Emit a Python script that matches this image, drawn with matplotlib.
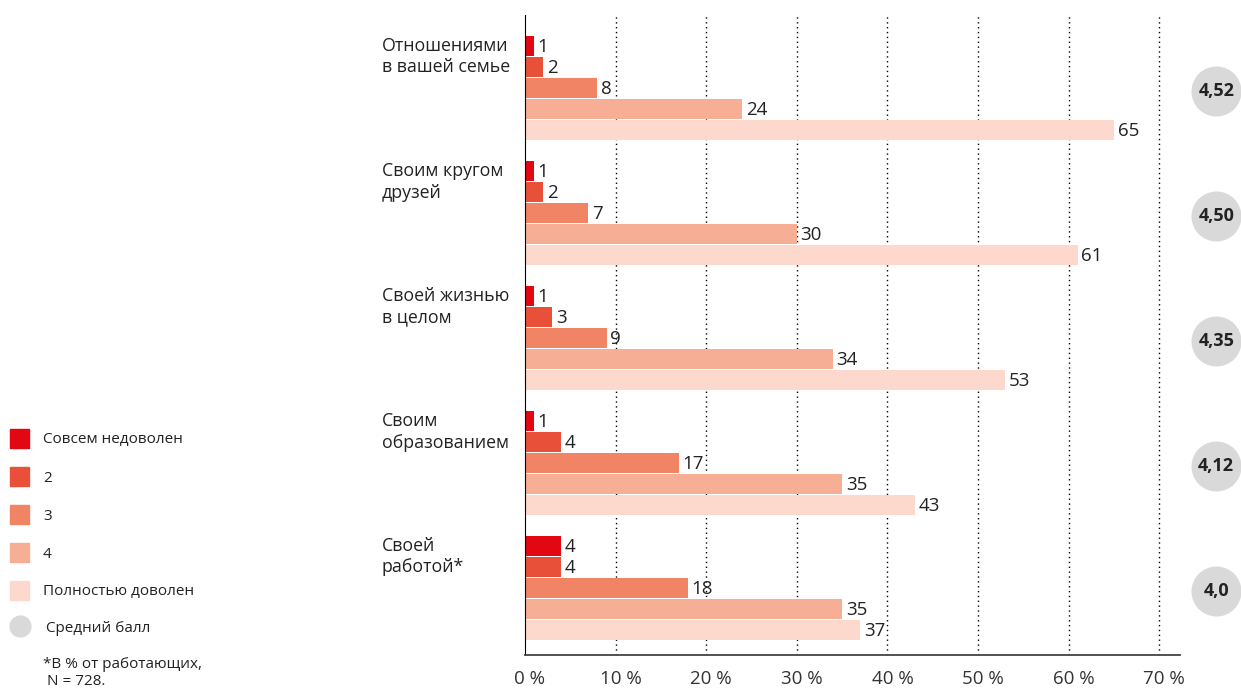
import matplotlib.pyplot as plt
from matplotlib.patches import Rectangle
from matplotlib.transforms import ScaledTranslation

plt.rcParams['font.family'] = ['Open Sans', 'DejaVu Sans']

# данные
categories = ["Отношениями\nв вашей семье", "Своим кругом\nдрузей", "Своей жизнью\nв целом",
              "Своим\nобразованием", "Своей\nработой*"]
levels = ["Совсем недоволен", "2", "3", "4", "Полностью доволен"]
values = [
    [1, 2, 8, 24, 65],
    [1, 2, 7, 30, 61],
    [1, 3, 9, 34, 53],
    [1, 4, 17, 35, 43],
    [4, 4, 18, 35, 37],
]
avg_scores = ["4,52", "4,50", "4,35", "4,12", "4,0"]
ticks = [0, 10, 20, 30, 40, 50, 60, 70]
colors = ["#E30613", "#E8503A", "#F08465", "#F6AE95", "#FCD9CC"]
circle_color = "#D9D9D9"

W, H = 1241, 691
fig = plt.figure(figsize=(W / 100, H / 100), dpi=100)
ax = fig.add_axes([525 / W, 1 - 655 / H, (1180 - 525) / W, (655 - 15) / H])

group_step = 125
bar_step = 21
first = 31
for i, row in enumerate(values):
    for j, v in enumerate(row):
        y = first + i * group_step + j * bar_step
        ax.barh(y, v, height=20, color=colors[j], zorder=2)
        ax.text(v + 0.4, y + 1, str(v), va='center', ha='left', fontsize=13.5, color='#222222', zorder=3)
    top = first + i * group_step - 10
    ax.text(-15.8, top + 1, categories[i], ha='left', va='top', fontsize=12.8, color='#222222',
            linespacing=1.25)
    yc = first + i * group_step + 2 * bar_step
    ax.plot(76.3, yc + 3, 'o', ms=35, color=circle_color, clip_on=False, zorder=1)
    ax.text(76.3, yc + 3, avg_scores[i], ha='center', va='center', fontsize=13,
            fontweight='bold', color='#222222', clip_on=False)

ax.set_ylim(640, 0)
ax.set_xlim(0, (1180 - 525) / 9.06)
ax.set_xticks(ticks)
ax.set_xticklabels([f"{t} %" for t in ticks], fontsize=13.5, color='#333333')
ax.tick_params(axis='x', length=0, pad=11)
shift = ScaledTranslation(5 / 100, 0, fig.dpi_scale_trans)
for lab in ax.get_xticklabels():
    lab.set_transform(lab.get_transform() + shift)
ax.set_yticks([])
for t in ticks[1:]:
    ax.axvline(t, color='black', linestyle=(0, (1, 2.5)), lw=1, zorder=1)
ax.spines['top'].set_visible(False)
ax.spines['right'].set_visible(False)
ax.spines['left'].set_color('black')
ax.spines['bottom'].set_color('#444444')
ax.spines['bottom'].set_linewidth(1.3)

# легенда
for k, name in enumerate(levels):
    yp = 438 + k * 38
    fig.add_artist(Rectangle((10 / W, 1 - (yp + 10) / H), 19 / W, 19 / H,
                             transform=fig.transFigure, color=colors[k]))
    fig.text(43 / W, 1 - (yp + 2) / H, name, ha='left', va='center', fontsize=11, color='#222222')
fig.lines.append(plt.Line2D([20 / W], [1 - 626 / H], marker='o', ms=15, color=circle_color,
                            transform=fig.transFigure))
fig.text(46 / W, 1 - 629 / H, "Средний балл", ha='left', va='center', fontsize=11, color='#222222')
fig.text(43 / W, 1 - 673 / H, "*В % от работающих,\n N = 728.", ha='left', va='center',
         fontsize=11, color='#222222', linespacing=1.25)

fig.savefig("out.png", dpi=100)
